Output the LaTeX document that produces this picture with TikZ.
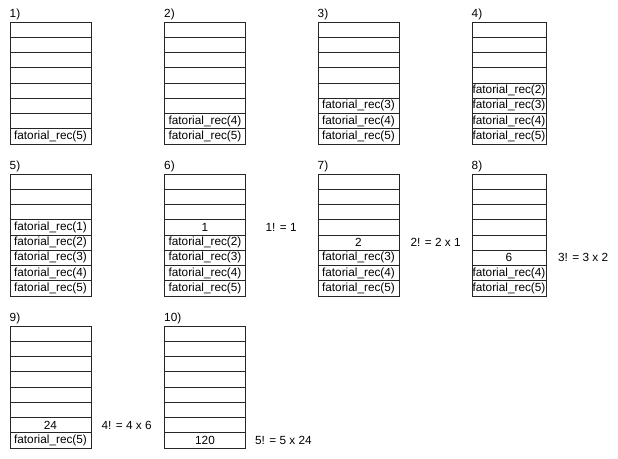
\documentclass[tikz,border=0pt]{standalone}
\usepackage{fontspec}
\setmainfont{Liberation Sans}
\usetikzlibrary{positioning}
\tikzset{
	celula/.style={draw=black!85, line width=0.9pt, minimum height=15.25pt, inner sep=0pt, font=\fontsize{11.8}{13}\selectfont},
	rotulo/.style={anchor=south west, inner sep=0pt, font=\fontsize{11.8}{13}\selectfont},
	conta/.style={anchor=west, inner sep=0pt, font=\fontsize{11.8}{13}\selectfont}
}
% #1 nome, #2 x, #3 topo, #4 largura, #5 passo, #6 celulas de cima para baixo
\newcommand{\pilha}[6]{%
	\node[rotulo] (#1) at (#2-0.5,#3-1.5) {#5)};
	\foreach \t [count=\i] in {#6}
		\node[celula, minimum width=#4pt] (#1-\i) at ({#2+#4/2},{#3+(\i-0.5)*15.25}) {\t};
}

\begin{document}
\begin{tikzpicture}[x=1pt,y=-1pt]
				\useasboundingbox (0,0) rectangle (618,458);
				
				%primeira linha
				\pilha{p1}{10}{22}{81}{1}{{},{},{},{},{},{},{},fatorial\_rec(5)}
				\pilha{p2}{164.5}{22}{81}{2}{{},{},{},{},{},{},fatorial\_rec(4),fatorial\_rec(5)}
				\pilha{p3}{318}{22}{81}{3}{{},{},{},{},{},fatorial\_rec(3),fatorial\_rec(4),fatorial\_rec(5)}
				\pilha{p4}{472}{22}{74}{4}{{},{},{},{},fatorial\_rec(2),fatorial\_rec(3),fatorial\_rec(4),fatorial\_rec(5)}
				
				%segunda linha
				\pilha{p5}{10}{174}{81}{5}{{},{},{},fatorial\_rec(1),fatorial\_rec(2),fatorial\_rec(3),fatorial\_rec(4),fatorial\_rec(5)}
				\pilha{p6}{164.5}{174}{81}{6}{{},{},{},1,fatorial\_rec(2),fatorial\_rec(3),fatorial\_rec(4),fatorial\_rec(5)}
				\pilha{p7}{318}{174}{81}{7}{{},{},{},{},2,fatorial\_rec(3),fatorial\_rec(4),fatorial\_rec(5)}
				\pilha{p8}{472}{174}{74}{8}{{},{},{},{},{},6,fatorial\_rec(4),fatorial\_rec(5)}
				
				%terceira linha
				\pilha{p9}{10}{326}{81}{9}{{},{},{},{},{},{},24,fatorial\_rec(5)}
				\pilha{p10}{164.5}{326}{81}{10}{{},{},{},{},{},{},{},120}
				
				%resultados
				\node[conta, right=19.5pt of p6-4] (r1) {1! = 1};
				\node[conta, right=11pt of p7-5] (r2) {2! = 2 x 1};
				\node[conta, right=11.5pt of p8-6] (r3) {3! = 3 x 2};
				\node[conta, right=10pt of p9-7] (r4) {4! = 4 x 6};
				\node[conta, right=9pt of p10-8] (r5) {5! = 5 x 24};
			\end{tikzpicture}
\end{document}
